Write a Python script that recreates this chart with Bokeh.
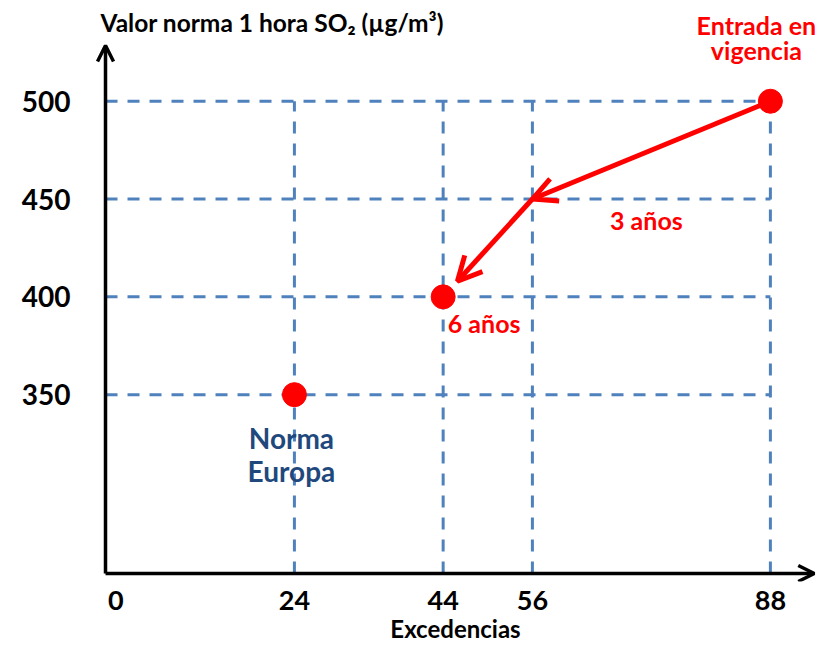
from bokeh.plotting import figure
from bokeh.models import Range1d, FixedTicker, Arrow, OpenHead, Label
from bokeh.embed import file_html
from bokeh.resources import INLINE

# ---- data ----
x_ticks = [0, 24, 44, 56, 88]
y_ticks = [350, 400, 450, 500]
point_x = [24, 44, 88]          # Excedencias
point_y = [350, 400, 500]       # Valor norma 1 hora SO2
path_x = [88, 56, 44]           # transition path
path_y = [500, 450, 400]

# ---- layout (axis origin and visible ranges) ----
X_START, X_END = -2.88, 94.2
Y_START, Y_END = 254.5, 551.5
X0, Y0 = -1.4, 258.6            # where the drawn axes cross
X_TIP, Y_TIP = 93.9, 528.5      # arrow tips of the axes

FONT = "Lato"
RED = "#ff0000"
BLUE = "#4f81bd"
DARKBLUE = "#1f497d"

p = figure(width=816, height=646,
           x_range=Range1d(X_START, X_END), y_range=Range1d(Y_START, Y_END),
           output_backend="svg", toolbar_location=None,
           min_border_left=94, min_border_right=0,
           min_border_top=0, min_border_bottom=65)
p.outline_line_color = None
p.grid.visible = False
p.background_fill_color = "white"

for ax in (p.xaxis[0], p.yaxis[0]):
    ax.axis_line_color = None
    ax.major_tick_line_color = None
    ax.minor_tick_line_color = None
    ax.major_tick_out = 0
    ax.major_tick_in = 0
    ax.minor_tick_out = 0
    ax.major_label_text_font = FONT
    ax.major_label_text_font_style = "bold"
    ax.major_label_text_color = "black"

p.xaxis.ticker = FixedTicker(ticks=x_ticks)
p.yaxis.ticker = FixedTicker(ticks=y_ticks)
p.xaxis.major_label_text_font_size = "27px"
p.yaxis.major_label_text_font_size = "28px"
p.xaxis.major_label_standoff = 9
p.yaxis.major_label_standoff = 24
p.xaxis.axis_label = "Excedencias"
p.xaxis.axis_label_text_font = FONT
p.xaxis.axis_label_text_font_style = "bold"
p.xaxis.axis_label_text_font_size = "24px"
p.xaxis.axis_label_text_color = "black"
p.xaxis.axis_label_standoff = 1

# dashed reference lines
xmax = max(x_ticks)
ymax = max(y_ticks)
p.segment(x0=[X0] * len(y_ticks), y0=y_ticks, x1=[xmax] * len(y_ticks), y1=y_ticks,
          line_color=BLUE, line_width=3, line_dash="12 10")
vx = x_ticks[1:]
p.segment(x0=vx, y0=[Y0] * len(vx), x1=vx, y1=[ymax] * len(vx),
          line_color=BLUE, line_width=3, line_dash="12 10")

# axis arrows
p.add_layout(Arrow(end=OpenHead(size=16, line_width=3.5, line_color="black"),
                   x_start=X0, y_start=Y0, x_end=X_TIP, y_end=Y0,
                   line_color="black", line_width=3.5))
p.add_layout(Arrow(end=OpenHead(size=16, line_width=3.5, line_color="black"),
                   x_start=X0, y_start=Y0, x_end=X0, y_end=Y_TIP,
                   line_color="black", line_width=3.5))

# red transition arrows
p.add_layout(Arrow(end=OpenHead(size=24, line_width=5, line_color=RED),
                   x_start=path_x[0], y_start=path_y[0], x_end=path_x[1], y_end=path_y[1],
                   line_color=RED, line_width=5))
frac = 0.84
p.add_layout(Arrow(end=OpenHead(size=24, line_width=5, line_color=RED),
                   x_start=path_x[1], y_start=path_y[1],
                   x_end=path_x[1] + frac * (path_x[2] - path_x[1]),
                   y_end=path_y[1] + frac * (path_y[2] - path_y[1]),
                   line_color=RED, line_width=5))

# points
p.scatter(point_x, point_y, size=24, color=RED, line_color=RED)

def lab(x, y, text, dx, dy, color, size, align="center", baseline="middle"):
    p.add_layout(Label(x=x, y=y, text=text, x_offset=dx, y_offset=dy,
                       text_color=color, text_font=FONT, text_font_style="bold",
                       text_font_size=size, text_align=align, text_baseline=baseline))

lab(X0, Y_END, "Valor norma 1 hora SO\u2082 (\u00b5g/m\u00b3)", -5, -22, "black", "24.5px", align="left")
lab(point_x[2], point_y[2], "Entrada en", -14, 76, RED, "25px")
lab(point_x[2], point_y[2], "vigencia", -14, 51, RED, "25px")
lab(path_x[1], path_y[1], "3 años", 114, -21, RED, "25px")
lab(point_x[1], point_y[1], "6 años", 41, -26, RED, "25px")
lab(point_x[0], point_y[0], "Norma", -3, -43, DARKBLUE, "28px")
lab(point_x[0], point_y[0], "Europa", -3, -76, DARKBLUE, "28px")

open("out.html", "w").write(file_html(p, INLINE))
